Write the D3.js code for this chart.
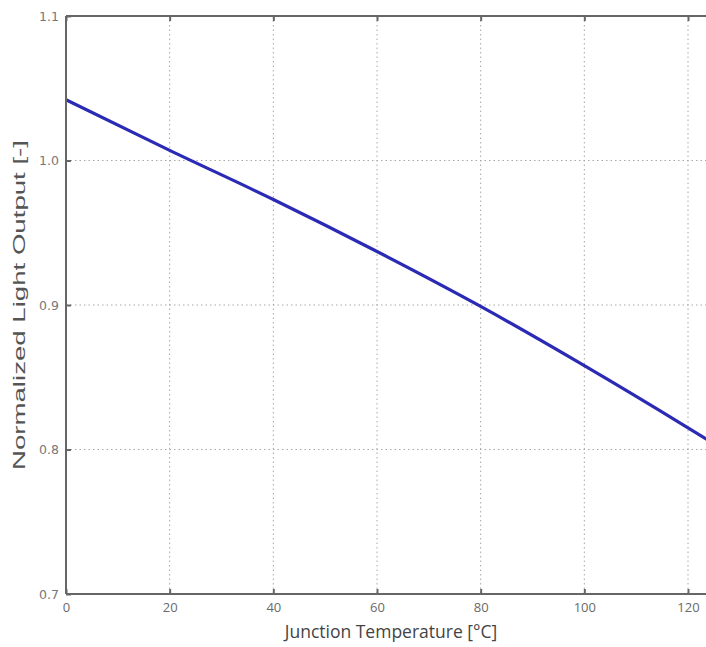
<!DOCTYPE html>
<html>
<head>
<meta charset="utf-8">
<style>
  body { margin: 0; background: #fff; }
  svg { display: block; }
</style>
</head>
<body>
<svg width="706" height="647"></svg>
<script src="https://d3js.org/d3.v7.min.js"></script>
<script>
// values
var temps = [0, 20, 40, 60, 80, 100, 120, 125];
var output = [1.042, 1.007, 0.973, 0.937, 0.899, 0.858, 0.815, 0.804];
var xTicks = [0, 20, 40, 60, 80, 100, 120];
var yTicks = [0.7, 0.8, 0.9, 1.0, 1.1];
var xTitle = "Junction Temperature [°C]";
var yTitle = "Normalized Light Output [-]";

var svg = d3.select("svg");
var plotLeft = 66, plotTop = 16, plotBottom = 594;

var x = d3.scaleLinear().domain([0, 120]).range([plotLeft, 688]);
var y = d3.scaleLinear().domain([0.7, 1.1]).range([plotBottom, plotTop]);
var plotRight = x(125);

// grid
svg.append("g").selectAll("line")
  .data(xTicks.slice(1))
  .enter().append("line")
  .attr("x1", function(d) { return x(d); })
  .attr("x2", function(d) { return x(d); })
  .attr("y1", plotTop).attr("y2", plotBottom)
  .attr("stroke", "#a8a8a8").attr("stroke-width", 1)
  .attr("stroke-dasharray", "1.5,3");

svg.append("g").selectAll("line")
  .data(yTicks.slice(1, -1))
  .enter().append("line")
  .attr("y1", function(d) { return y(d); })
  .attr("y2", function(d) { return y(d); })
  .attr("x1", plotLeft).attr("x2", plotRight)
  .attr("stroke", "#a8a8a8").attr("stroke-width", 1)
  .attr("stroke-dasharray", "1.5,3");

// data line
var line = d3.line()
  .x(function(d, i) { return x(temps[i]); })
  .y(function(d) { return y(d); })
  .curve(d3.curveMonotoneX);

svg.append("path")
  .datum(output)
  .attr("d", line)
  .attr("fill", "none")
  .attr("stroke", "#2b2ab4")
  .attr("stroke-width", 3.2);

// frame
svg.append("line").attr("x1", plotLeft).attr("x2", plotRight).attr("y1", plotTop).attr("y2", plotTop)
  .attr("stroke", "#666").attr("stroke-width", 2);
svg.append("line").attr("x1", plotLeft).attr("x2", plotRight).attr("y1", plotBottom).attr("y2", plotBottom)
  .attr("stroke", "#666").attr("stroke-width", 2);
svg.append("line").attr("x1", plotLeft).attr("x2", plotLeft).attr("y1", plotTop).attr("y2", plotBottom)
  .attr("stroke", "#666").attr("stroke-width", 2);

// axes (ticks pointing inward)
var xAxis = svg.append("g")
  .attr("transform", "translate(0," + plotBottom + ")")
  .call(d3.axisBottom(x).tickValues(xTicks).tickSizeInner(-5).tickSizeOuter(0).tickPadding(9));
var xTop = svg.append("g")
  .attr("transform", "translate(0," + plotTop + ")")
  .call(d3.axisTop(x).tickValues(xTicks).tickSizeInner(-5).tickSizeOuter(0).tickFormat(""));
var yAxis = svg.append("g")
  .attr("transform", "translate(" + plotLeft + ",0)")
  .call(d3.axisLeft(y).tickValues(yTicks).tickSizeInner(-5).tickSizeOuter(0).tickPadding(7)
    .tickFormat(d3.format(".1f")));

[xAxis, xTop, yAxis].forEach(function(g) {
  g.select(".domain").remove();
  g.selectAll(".tick line").attr("stroke", "#666").attr("stroke-width", 2);
});

xAxis.selectAll("text")
  .attr("font-family", "'Open Sans', sans-serif")
  .attr("font-size", 13)
  .attr("fill", "#6a6a6a");
yAxis.selectAll("text")
  .attr("font-family", "'DejaVu Sans', sans-serif")
  .attr("font-size", 12.5)
  .attr("fill", "#777");

// titles
svg.append("text")
  .attr("x", 391).attr("y", 638)
  .attr("text-anchor", "middle")
  .attr("font-family", "'Open Sans', sans-serif")
  .attr("font-size", 17.5)
  .attr("fill", "#444")
  .text(xTitle);

svg.append("text")
  .attr("transform", "translate(25,305) rotate(-90)")
  .attr("text-anchor", "middle")
  .attr("font-family", "'Liberation Sans', sans-serif")
  .attr("font-size", 16)
  .attr("fill", "#555")
  .attr("textLength", 330)
  .attr("lengthAdjust", "spacingAndGlyphs")
  .text(yTitle);
</script>
</body>
</html>
